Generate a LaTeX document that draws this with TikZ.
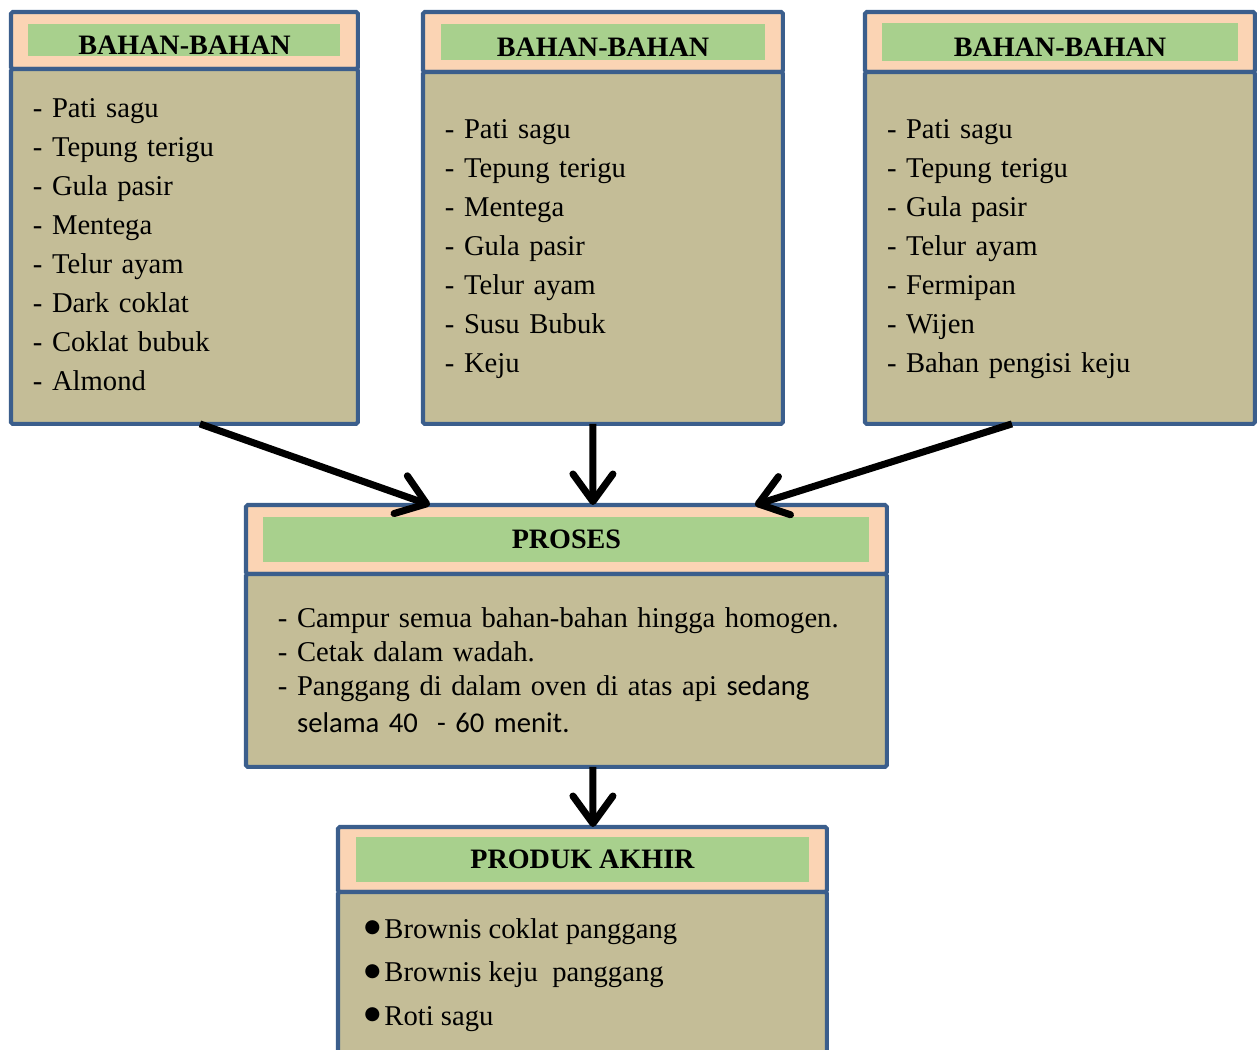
\documentclass[tikz,border=0pt]{standalone}
\usepackage{fontspec}
\setmainfont{Liberation Serif}
\newfontfamily\calfont{Carlito}
\newfontfamily\symfont{DejaVu Sans}
\usetikzlibrary{arrows.meta}
\definecolor{boxblue}{HTML}{3B5E8C}
\definecolor{peach}{HTML}{FBD4B4}
\definecolor{leaf}{HTML}{A8D08D}
\definecolor{khaki}{HTML}{C4BD97}
\newcommand{\bahanlabel}{\raisebox{-0.1cm}[\height][\depth]{BAHAN-BAHAN}}
\newcommand{\blob}{\raisebox{0.11cm}{\symfont\fontsize{10.5}{10.5}\selectfont ●}\hspace{0.08cm}}

\begin{document}
\begin{tikzpicture}[x=0.02cm,y=-0.02cm,
	head/.style={draw=boxblue,line width=2.3pt,fill=peach,rounded corners=1pt,anchor=north west,inner sep=0pt,outer sep=0pt},
	title/.style={fill=leaf,inner sep=0pt,font=\fontsize{16}{18}\selectfont\bfseries},
	body/.style={draw=boxblue,line width=2.3pt,fill=khaki,rounded corners=1pt,anchor=north,inner ysep=0pt,inner xsep=0.44cm,outer sep=0pt,align=left,font=\fontsize{16.3}{22.2}\selectfont},
	flow/.style={line width=4pt,-{Straight Barb[length=0.55cm,width=0.8cm,round]}}]
		\useasboundingbox (0,0) rectangle (1259,1050);
		\clip (0,0) rectangle (1259,1050);
		
		% Bahan boxes
		\node[head,minimum width=6.94cm,minimum height=1.14cm] (head1) at (11,12) {};
		\node[title,minimum width=6.24cm,minimum height=0.64cm] (title1) at (head1.center) {\bahanlabel};
		\node[body,minimum width=6.94cm,minimum height=7.1cm,text width=6.06cm] (body1) at (head1.south) {\strut- Pati sagu\\- Tepung terigu\\- Gula pasir\\- Mentega\\- Telur ayam\\- Dark coklat\\- Coklat bubuk\\- Almond\strut};
		
		\node[head,minimum width=7.2cm,minimum height=1.2cm] (head2) at (423,12) {};
		\node[title,minimum width=6.48cm,minimum height=0.72cm] (title2) at (head2.center) {\bahanlabel};
		\node[body,minimum width=7.2cm,minimum height=7.04cm,text width=6.32cm] (body2) at (head2.south) {\strut- Pati sagu\\- Tepung terigu\\- Mentega\\- Gula pasir\\- Telur ayam\\- Susu Bubuk\\- Keju\strut};
		
		\node[head,minimum width=7.8cm,minimum height=1.2cm] (head3) at (865,12) {};
		\node[title,minimum width=7.12cm,minimum height=0.76cm] (title3) at (head3.center) {\bahanlabel};
		\node[body,minimum width=7.8cm,minimum height=7.04cm,text width=6.92cm] (body3) at (head3.south) {\strut- Pati sagu\\- Tepung terigu\\- Gula pasir\\- Telur ayam\\- Fermipan\\- Wijen\\- Bahan pengisi keju\strut};
		
		% Proses
		\node[head,minimum width=12.82cm,minimum height=1.38cm] (head4) at (246,505) {};
		\node[title,minimum width=12.12cm,minimum height=0.9cm] (title4) at (head4.center) {PROSES};
		\node[body,minimum width=12.82cm,minimum height=3.86cm,inner xsep=0.64cm,text width=11.54cm,font=\fontsize{16.3}{19.3}\selectfont] (body4) at (head4.south) {- Campur semua bahan-bahan hingga homogen.\\- Cetak dalam wadah.\\- Panggang di dalam oven di atas api {\calfont sedang}\\[2pt]\phantom{- }{\calfont selama 40\ \ - 60 menit.}};
		
		% Produk akhir
		\node[head,minimum width=9.78cm,minimum height=1.3cm] (head5) at (338,827) {};
		\node[title,minimum width=9.06cm,minimum height=0.9cm] (title5) at (head5.center) {PRODUK AKHIR};
		\node[body,minimum width=9.78cm,minimum height=3.6cm] (body5) at (head5.south) {};
		\node[anchor=north west,inner sep=0pt,align=left,font=\fontsize{16.3}{24.7}\selectfont] (items5) at (364,918) {\blob Brownis coklat panggang\\\blob Brownis keju\ \ panggang\\\blob Roti sagu};
		
		% Arrows
		\draw[flow] ([xshift=0.31cm]body1.south) -- ([xshift=-2.73cm]head4.north);
		\draw[flow] ([xshift=-0.2cm]body2.south) -- ([xshift=0.53cm]head4.north);
		\draw[flow] ([xshift=-0.96cm]body3.south) -- ([xshift=3.77cm]head4.north);
		\draw[flow] ([xshift=0.53cm]body4.south) -- ([xshift=0.21cm]head5.north);
		
\end{tikzpicture}
\end{document}
